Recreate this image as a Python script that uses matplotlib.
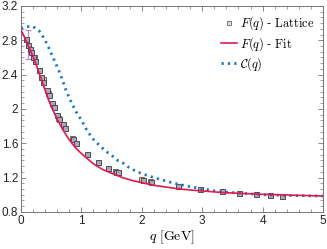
import matplotlib
matplotlib.use("Agg")
import matplotlib.pyplot as plt
from matplotlib.ticker import MultipleLocator, FuncFormatter
from matplotlib.lines import Line2D

# ---- data ----
q_fit = [0, 0.05, 0.1, 0.15, 0.2, 0.25, 0.3, 0.35, 0.4, 0.45, 0.5, 0.6, 0.7, 0.8, 0.9,
         1.0, 1.1, 1.2, 1.35, 1.5, 1.7, 1.85, 2.0, 2.2, 2.4, 2.6, 2.8, 3.0, 3.25, 3.5,
         4.0, 4.5, 5.0]
F_fit = [2.92, 2.85, 2.77, 2.69, 2.61, 2.52, 2.42, 2.32, 2.22, 2.12, 2.03, 1.88, 1.75,
         1.64, 1.55, 1.48, 1.42, 1.36, 1.295, 1.25, 1.195, 1.165, 1.14, 1.11, 1.09, 1.07,
         1.055, 1.045, 1.03, 1.02, 1.005, 0.995, 0.985]

q_C = [0, 0.1, 0.2, 0.3, 0.35, 0.4, 0.45, 0.5, 0.55, 0.6, 0.65, 0.7, 0.75, 0.8, 0.9,
       1.0, 1.1, 1.2, 1.3, 1.4, 1.5, 1.6, 1.7, 1.8, 2.0, 2.2, 2.5, 2.75, 3.0, 3.25, 3.5,
       4.0, 4.5, 5.0]
C_val = [2.94, 2.96, 2.96, 2.91, 2.86, 2.80, 2.73, 2.65, 2.57, 2.49, 2.41, 2.31, 2.21,
         2.13, 1.98, 1.87, 1.74, 1.645, 1.575, 1.51, 1.46, 1.40, 1.365, 1.31, 1.245,
         1.20, 1.14, 1.10, 1.07, 1.04, 1.025, 1.0, 0.99, 0.985]

q_lat = [0.08, 0.12, 0.15, 0.17, 0.20, 0.23, 0.30, 0.34, 0.37, 0.43, 0.46, 0.51, 0.54,
         0.60, 0.63, 0.69, 0.73, 0.86, 0.91, 1.09, 1.27, 1.44, 1.57, 1.61, 2.02, 2.16,
         2.60, 2.96, 3.32, 3.61, 3.89, 4.12, 4.32]
F_lat = [2.82, 2.745, 2.70, 2.66, 2.61, 2.56, 2.45, 2.37, 2.31, 2.22, 2.16, 2.07, 2.02,
         1.93, 1.88, 1.82, 1.78, 1.65, 1.60, 1.47, 1.38, 1.31, 1.27, 1.26, 1.17, 1.15,
         1.10, 1.07, 1.04, 1.025, 1.01, 1.0, 0.99]

# second (partly hidden) lattice set
q_lat2 = [0.21, 0.36, 0.45, 0.62, 0.85, 1.56, 1.99, 2.14]
F_lat2 = [2.60, 2.35, 2.19, 1.90, 1.66, 1.28, 1.18, 1.16]

# error bar visible on the reference
q_err = [0.12]
F_err = [2.75]
e_err = [0.17]

# ---- styling ----
plt.rcParams["mathtext.fontset"] = "cm"
plt.rcParams["font.family"] = ["Liberation Sans", "DejaVu Sans"]

fig = plt.figure(figsize=(3.27, 2.49), dpi=100)
ax = fig.add_axes([0.064, 0.149, 0.924, 0.827])

red = "#e3194b"
blue = "#1a78c8"
dots = (0, (0.8, 1.5))

ax.errorbar(q_err, F_err, yerr=e_err, fmt="none", ecolor="#b98ccf", elinewidth=0.9,
            capsize=2, capthick=0.9, zorder=2)
ax.plot(q_lat2, F_lat2, linestyle="none", marker="s", markersize=3.6,
        markerfacecolor="#e9c77a", markeredgecolor="#6e6a60", markeredgewidth=0.7,
        zorder=3)
ax.plot(q_lat, F_lat, linestyle="none", marker="s", markersize=3.6,
        markerfacecolor="#b0a4be", markeredgecolor="#4f4a55", markeredgewidth=0.7,
        zorder=3)
ax.plot(q_C, C_val, color=blue, linewidth=2.0, linestyle=dots, zorder=4)
ax.plot(q_fit, F_fit, color=red, linewidth=1.2, zorder=5)

ax.set_xlim(0, 5)
ax.set_ylim(0.8, 3.2)
ax.xaxis.set_major_locator(MultipleLocator(1))
ax.xaxis.set_minor_locator(MultipleLocator(0.2))
ax.yaxis.set_major_locator(MultipleLocator(0.4))
ax.yaxis.set_minor_locator(MultipleLocator(0.4 / 6))
fmt = FuncFormatter(lambda v, p: ("%.1f" % v).rstrip("0").rstrip("."))
ax.xaxis.set_major_formatter(fmt)
ax.yaxis.set_major_formatter(fmt)
ax.tick_params(which="both", direction="in", top=True, right=True, color="#777777",
               labelsize=8.5, pad=2, labelcolor="#222222")
ax.tick_params(which="major", length=3.5, width=0.6)
ax.tick_params(which="minor", length=2, width=0.5)
for s in ax.spines.values():
    s.set_color("#777777")
    s.set_linewidth(0.7)

ax.set_xlabel(r"$q\ \mathrm{[GeV]}$", fontsize=10, labelpad=1)

h1 = Line2D([], [], linestyle="none", marker="s", markersize=3.3,
            markerfacecolor="#dddddd", markeredgecolor="#666666", markeredgewidth=0.6)
h2 = Line2D([], [], color=red, linewidth=1.2)
h3 = Line2D([], [], color=blue, linewidth=2.0, linestyle=dots)
leg = ax.legend([h1, h2, h3],
                [r"$F(q)$ - $\mathrm{Lattice}$", r"$F(q)$ - $\mathrm{Fit}$",
                 r"$\mathcal{C}(q)$"],
                loc="upper right", frameon=False, fontsize=9, handlelength=1.3,
                handletextpad=0.2, labelspacing=0.2, borderaxespad=0.4,
                borderpad=0.3)

fig.savefig("out.png", dpi=100)
